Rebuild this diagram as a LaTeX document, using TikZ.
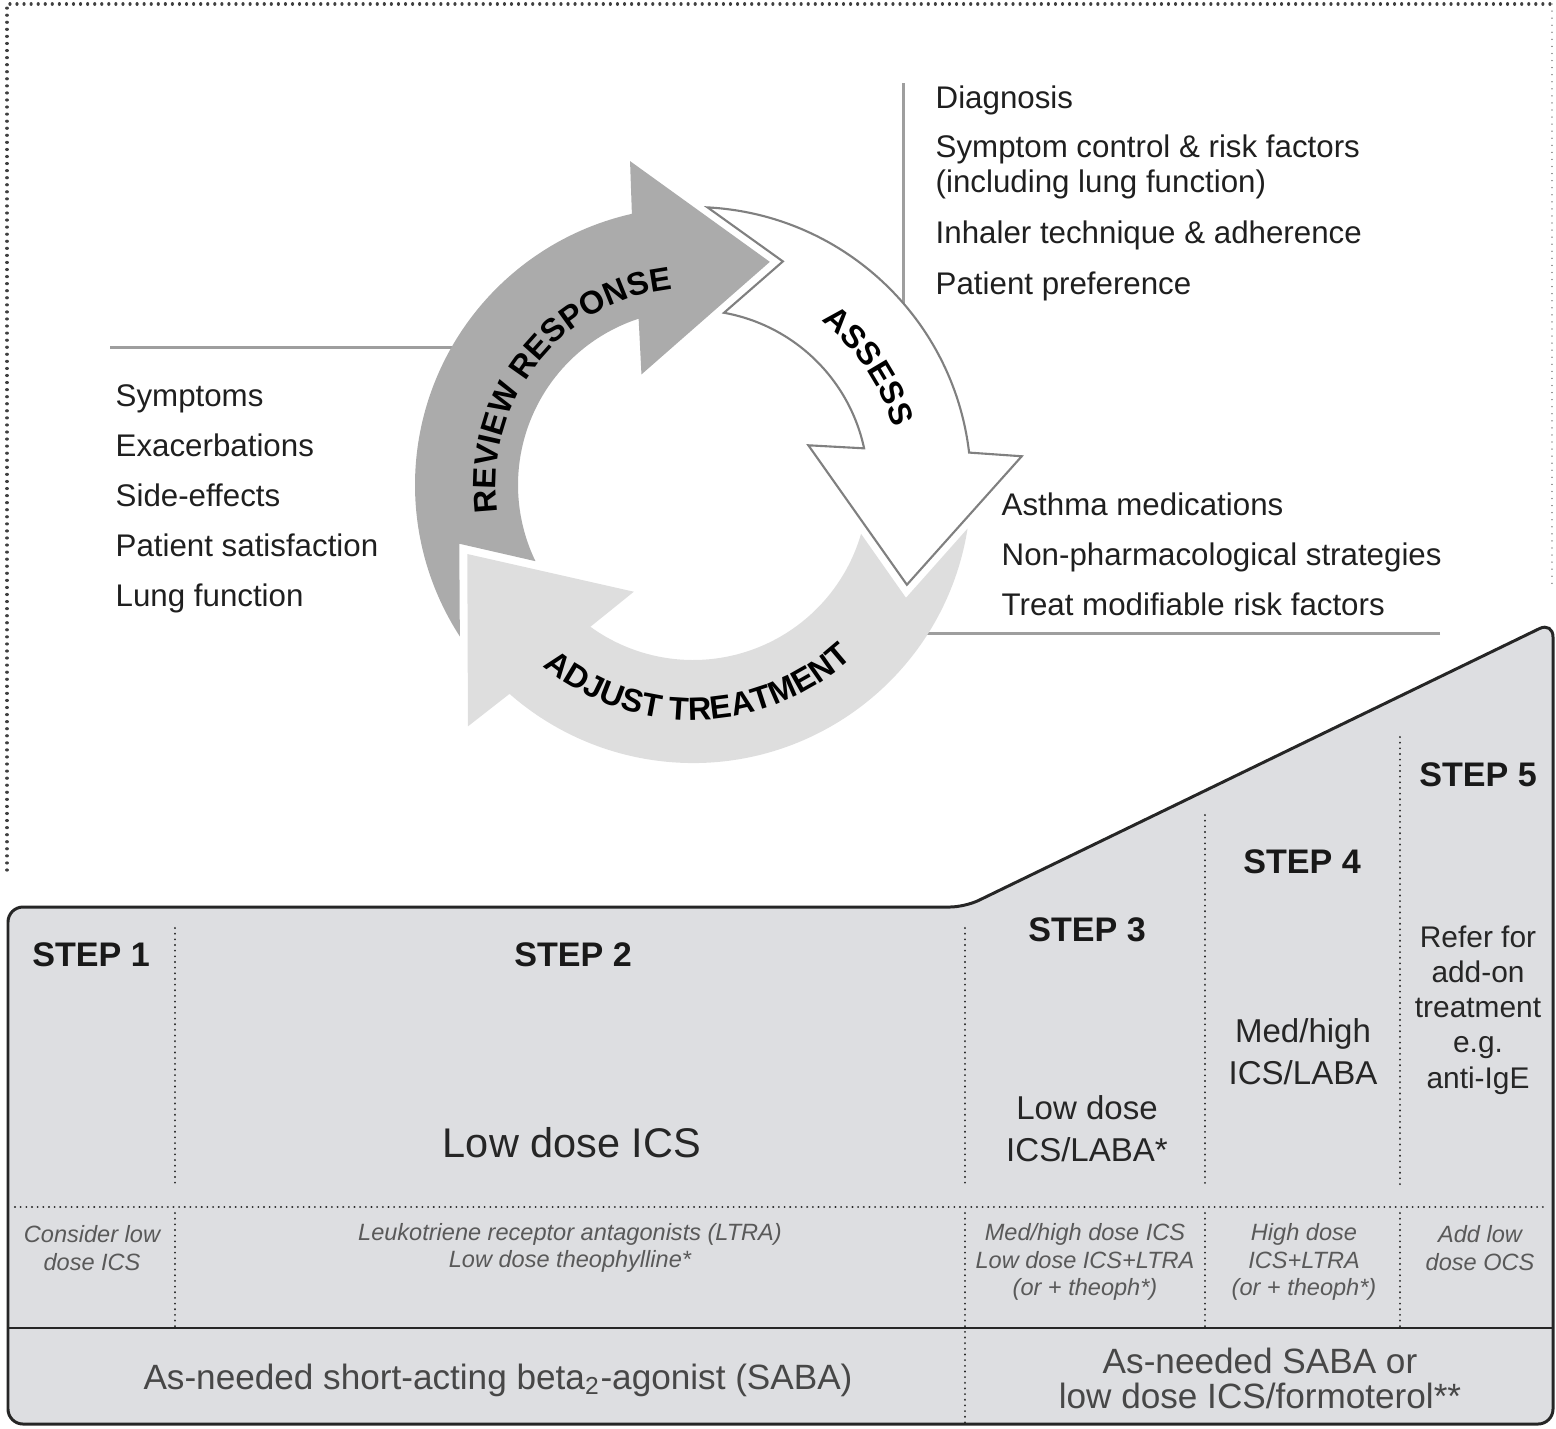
\documentclass[tikz,border=0pt]{standalone}
\usepackage{fontspec}
\setmainfont{Liberation Sans}
\usetikzlibrary{decorations.text}

\begin{document}
\begin{tikzpicture}[
    listitem/.style={anchor=base west, inner sep=0pt, font=\fontsize{8.9}{10}\selectfont, text=black!88},
    leader/.style={draw=black!38, line width=0.85pt},
    cyclelabel/.style={decorate, decoration={text along path, text align=center,
        text={|\bfseries\fontsize{9.2}{11}\selectfont|#1}}},
    steptitle/.style={anchor=base, inner sep=0pt, font=\bfseries\fontsize{9.7}{11}\selectfont, text=black!90},
    steptext/.style={align=center, inner sep=0pt, font=\fontsize{9.4}{12}\selectfont, text=black!85},
    addon/.style={align=center, inner sep=0pt, font=\itshape\fontsize{6.7}{7.8}\selectfont, text=black!65},
    reliever/.style={align=center, inner sep=0pt, font=\fontsize{10}{10}\selectfont, text=black!72},
    colsep/.style={line width=0.6pt, dash pattern=on 0.01pt off 1.6pt, line cap=round, black!85},
    outerframe/.style={line width=0.9pt, dash pattern=on 0.01pt off 2pt, line cap=round, black!75}
  ]
  \useasboundingbox (0,0) rectangle (15.56,-14.28);

  \colorlet{revfill}{black!33}
  \colorlet{adjfill}{black!13}
  \definecolor{panelfill}{RGB}{221,222,225}

  % dotted frame round the cycle
  \draw[outerframe] (0.07,-8.70) -- (0.07,-0.04) -- (15.52,-0.04);
  \draw[outerframe, line width=0.4pt, black!45] (15.52,-0.04) -- (15.52,-5.90);

  % leader lines, drawn first so the arrows cover their ends
  \coordinate (reviewlead) at (1.10,-3.47);
  \coordinate (reviewend) at (4.70,-3.47);
  \coordinate (assesslead) at (9.03,-0.83);
  \coordinate (assessend) at (9.03,-3.10);
  \coordinate (adjustlead) at (14.40,-6.33);
  \coordinate (adjustend) at (9.20,-6.33);
  \draw[leader] (reviewlead) -- (reviewend);
  \draw[leader] (assesslead) -- (assessend);
  \draw[leader] (adjustlead) -- (adjustend);

  \begin{scope}[shift={(6.93,-4.85)}]
    % each arrow: prev head angle / own head angle / fill / outline
    \foreach \prev/\own/\fc/\dc in {227/101/revfill/none, 101/5/white/black!50, 5/-133/adjfill/none}{
      \filldraw[fill=\fc, draw=\dc, line width=0.6pt]
        (\prev-14:2.78) arc[start angle=\prev-14, end angle=\own+1.7, radius=2.78]
        -- (\own:3.30) -- (\own-30:2.36) -- (\own+14:1.22) -- (\own+7.1:1.75)
        arc[start angle=\own+7.1, end angle=\prev-21.2, radius=1.75]
        -- (\prev-32.9:2.41) -- cycle;
    }
    \path[cyclelabel={REVIEW RESPONSE}] (217:1.97) arc[start angle=217, end angle=67, radius=1.97];
    \path[cyclelabel={ASSESS}] (84:2.08) arc[start angle=84, end angle=-16, radius=2.08];
    \path[cyclelabel={ADJUST TREATMENT}] (201:2.35) arc[start angle=201, end angle=342, radius=2.35];
  \end{scope}

  % what each stage looks at
  \foreach \txt [count=\i] in {Symptoms, Exacerbations, Side-effects, Patient satisfaction, Lung function}
    \node[listitem] (review\i) at (1.15,-3.56-0.5*\i) {\txt};
  \foreach \y/\txt [count=\i] in {1.08/Diagnosis, 1.57/{Symptom control \& risk factors},
      1.92/{(including lung function)}, 2.43/{Inhaler technique \& adherence}, 2.94/Patient preference}
    \node[listitem] (assess\i) at (9.35,-\y) {\txt};
  \foreach \txt [count=\i] in {Asthma medications, Non-pharmacological strategies, Treat modifiable risk factors}
    \node[listitem] (adjust\i) at (10.01,-4.65-0.5*\i) {\txt};

  % the steps
  \filldraw[fill=panelfill, draw=black!85, line width=0.85pt, rounded corners=0.15cm]
    (0.08,-14.24) -- (0.08,-9.07) -- (9.65,-9.07) -- (15.53,-6.22) -- (15.53,-14.24) -- cycle;
  \draw[line width=0.6pt, black!85] (0.08,-13.28) -- (15.53,-13.28);
  \draw[colsep] (0.15,-12.07) -- (15.48,-12.07);
  \foreach \x/\ytop in {1.75/9.28, 9.65/9.28, 12.05/8.15, 14.00/7.37}
    \draw[colsep] (\x,-\ytop) -- (\x,-11.87);
  \foreach \x in {1.75, 12.05, 14.00}
    \draw[colsep] (\x,-12.13) -- (\x,-13.28);
  \draw[colsep] (9.65,-12.13) -- (9.65,-14.24);

  \foreach \n/\x/\y in {1/0.91/9.66, 2/5.73/9.66, 3/10.87/9.41, 4/13.02/8.73, 5/14.78/7.86}
    \node[steptitle] (step\n) at (\x,-\y) {STEP \n};

  \node[anchor=base, inner sep=0pt, font=\fontsize{11.8}{14}\selectfont, text=black!85] (ctrl2) at (5.72,-11.57) {Low dose ICS};
  \node[steptext] (ctrl3) at (10.87,-11.29) {Low dose\\ICS/LABA*};
  \node[steptext] (ctrl4) at (13.03,-10.52) {Med/high\\ICS/LABA};
  \node[steptext, font=\fontsize{8.5}{10}\selectfont] (ctrl5) at (14.78,-10.10) {Refer for\\add-on\\treatment\\e.g.\\anti-IgE};

  \node[addon] (other1) at (0.92,-12.48) {Consider low\\dose ICS};
  \node[addon] (other2) at (5.70,-12.48) {Leukotriene receptor antagonists (LTRA)\\Low dose theophylline*};
  \node[addon] (other3) at (10.85,-12.62) {Med/high dose ICS\\Low dose ICS+LTRA\\(or + theoph*)};
  \node[addon] (other4) at (13.04,-12.62) {High dose\\ICS+LTRA\\(or + theoph*)};
  \node[addon] (other5) at (14.80,-12.48) {Add low\\dose OCS};

  \node[reliever] (saba) at (4.98,-13.80) {As-needed short-acting beta\textsubscript{2}-agonist (SABA)};
  \node[reliever] (sabaform) at (12.60,-13.78) {As-needed SABA or\\low dose ICS/formoterol**};
\end{tikzpicture}
\end{document}
